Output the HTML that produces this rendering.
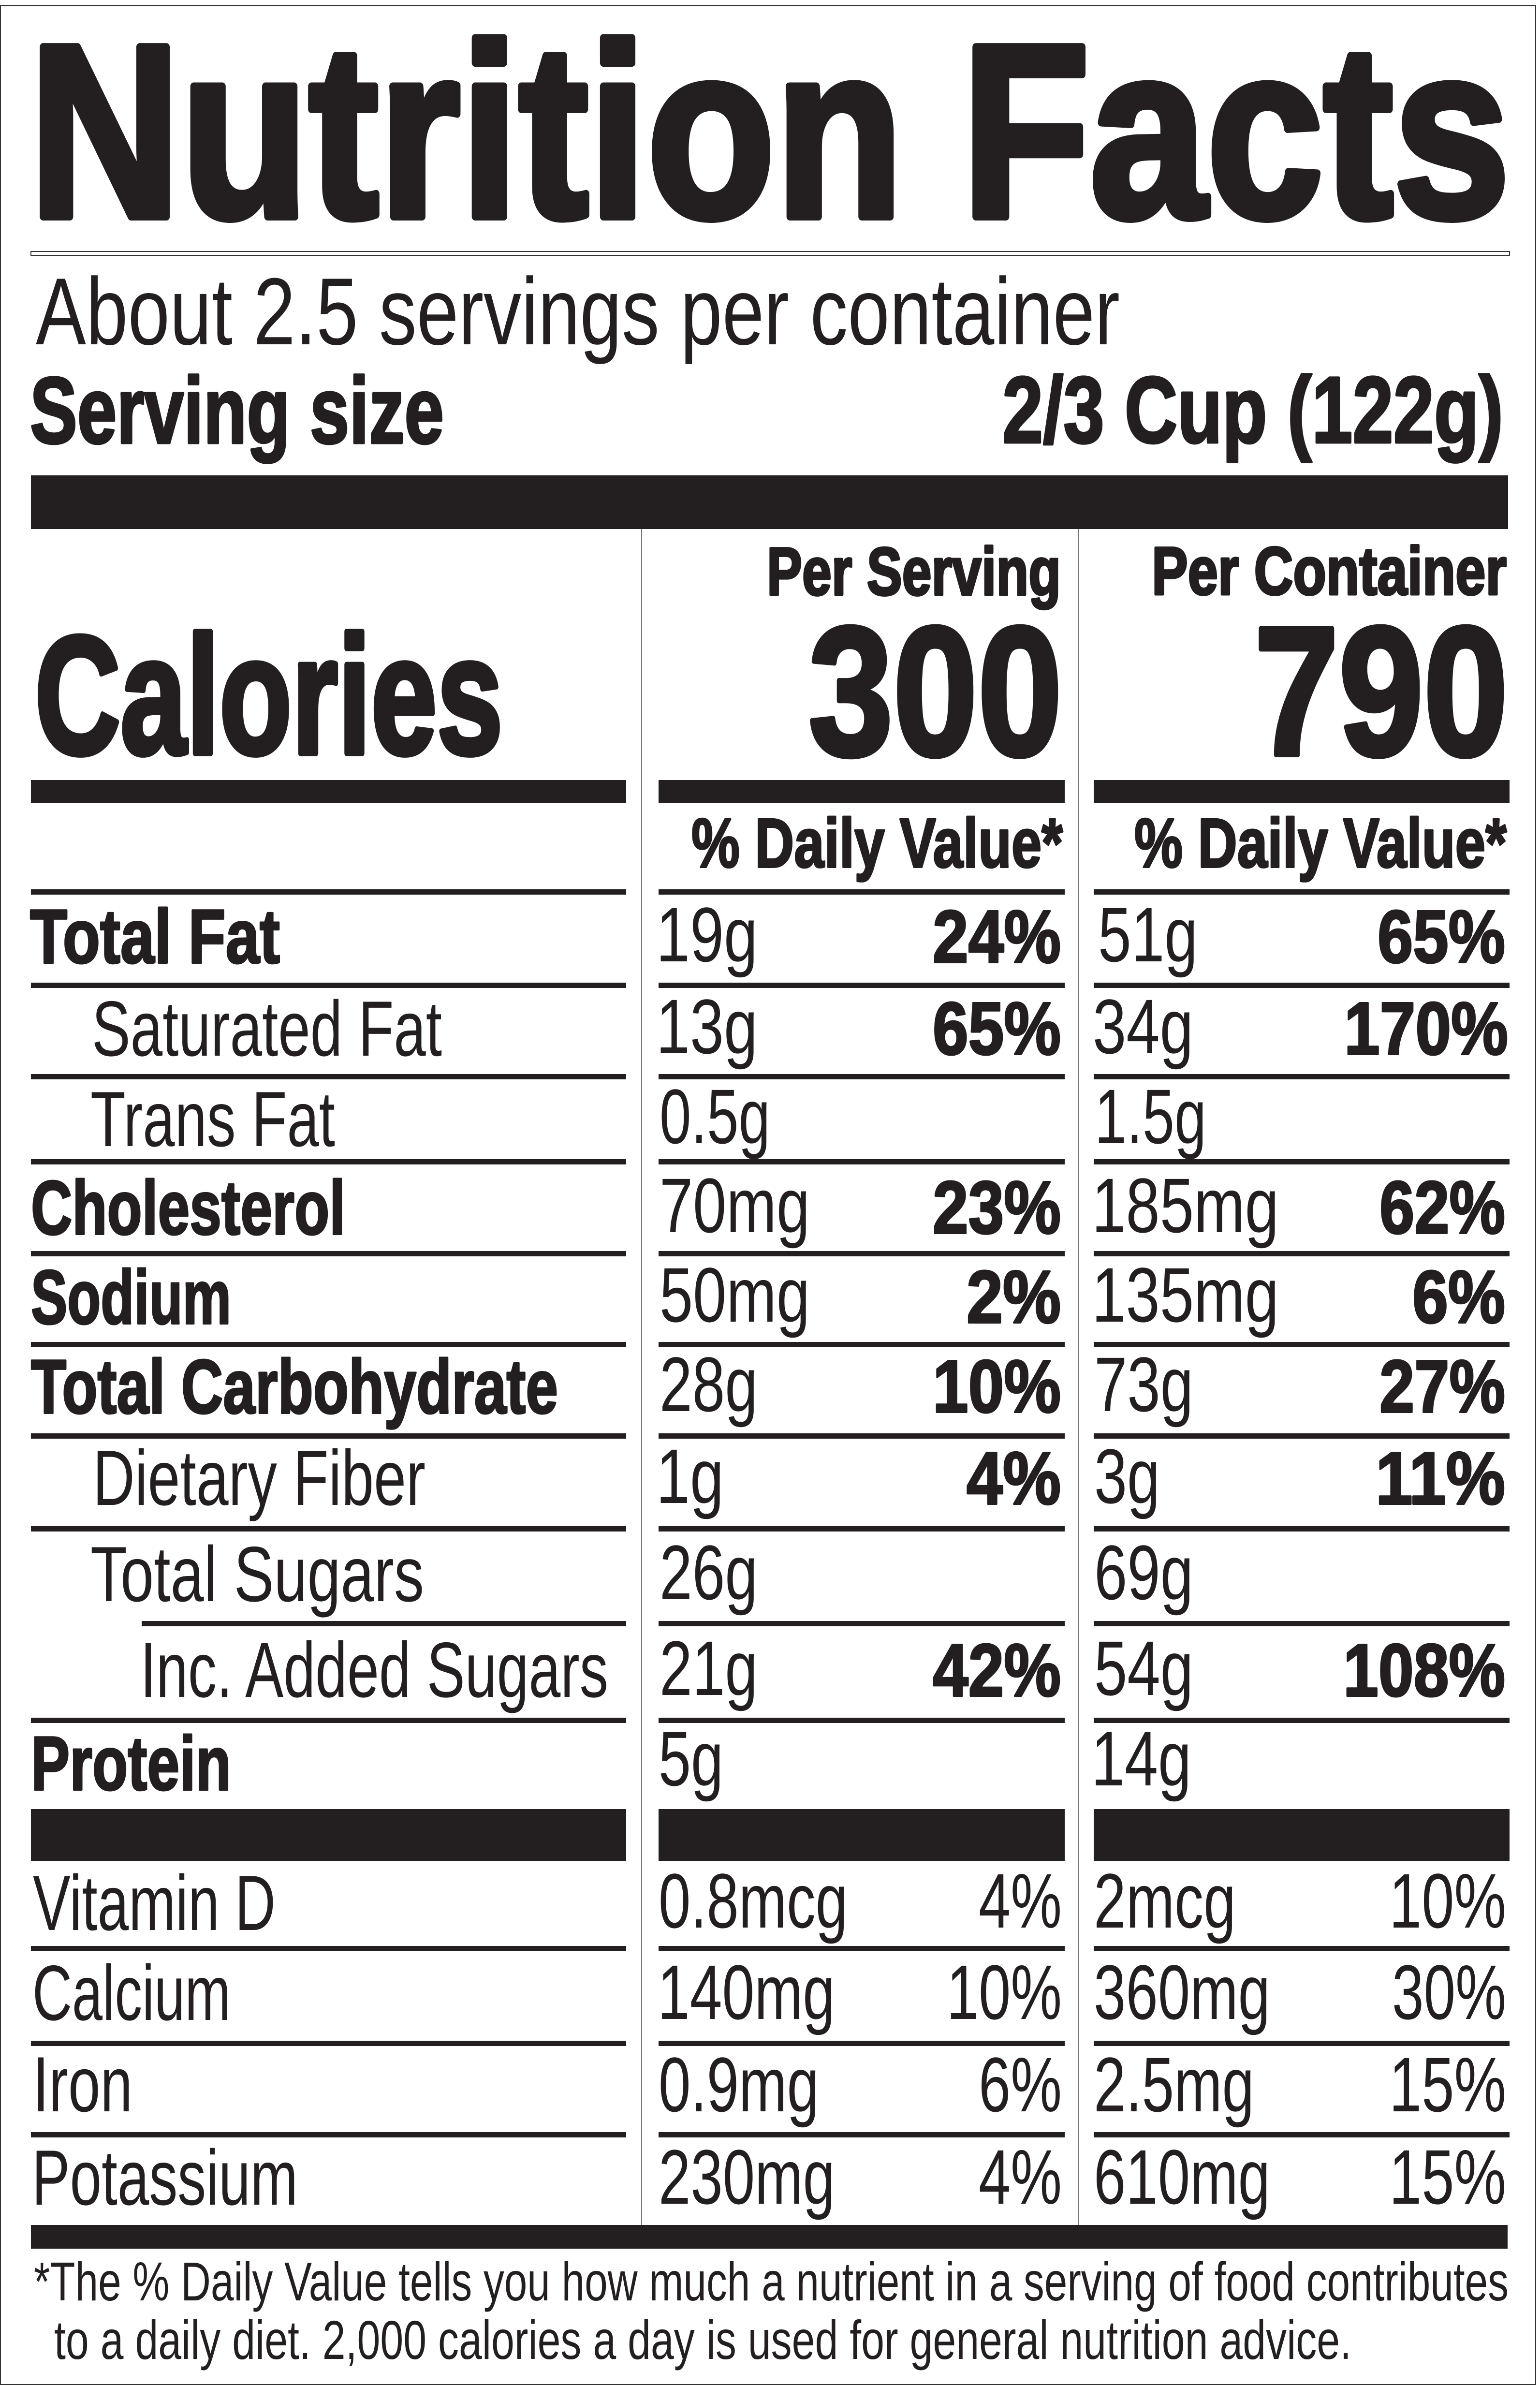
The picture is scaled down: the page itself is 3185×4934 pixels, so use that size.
<!DOCTYPE html>
<html>
<head>
<meta charset="utf-8">
<style>
html,body{margin:0;padding:0;background:#fff;}
svg{display:block;}
text{font-family:"Liberation Sans",Arial,sans-serif;fill:#231f20;}
.b{font-weight:bold;stroke:#231f20;stroke-linejoin:round;}
.r{font-weight:normal;}
</style>
</head>
<body>
<svg width="3185" height="4934" viewBox="0 0 3185 4934" xmlns="http://www.w3.org/2000/svg">
<rect x="0" y="0" width="3185" height="4934" fill="#fff"/>
<!-- border -->
<rect x="1" y="11" width="3175" height="4920" fill="none" stroke="#333" stroke-width="2"/>

<!-- Title -->
<text class="b" x="60" y="448" font-size="510" textLength="3063" lengthAdjust="spacingAndGlyphs" style="stroke-width:16">Nutrition Facts</text>
<rect x="64" y="520" width="3058" height="8" fill="#fff" stroke="#333" stroke-width="2"/>

<text class="r" x="74" y="712" font-size="197" textLength="2242" lengthAdjust="spacingAndGlyphs">About 2.5 servings per container</text>
<text class="b" x="62" y="916" font-size="195" textLength="856" lengthAdjust="spacingAndGlyphs" style="stroke-width:5">Serving size</text>
<text class="b" x="2073" y="915" font-size="195" textLength="1036" lengthAdjust="spacingAndGlyphs" style="stroke-width:5">2/3 Cup (122g)</text>

<!-- top thick bar -->
<rect x="64" y="983" width="3055" height="111" fill="#231f20"/>

<!-- vertical separators -->
<rect x="1326" y="1094" width="2" height="3507" fill="#777"/>
<rect x="2230" y="1094" width="2" height="3507" fill="#777"/>

<!-- headers -->
<text class="b" x="1586" y="1230" font-size="140" textLength="608" lengthAdjust="spacingAndGlyphs" style="stroke-width:5">Per Serving</text>
<text class="b" x="2382" y="1229" font-size="140" textLength="734" lengthAdjust="spacingAndGlyphs" style="stroke-width:5">Per Container</text>

<text class="b" x="72" y="1558" font-size="348" textLength="968" lengthAdjust="spacingAndGlyphs" style="stroke-width:11">Calories</text>
<text class="b" x="1672" y="1561" font-size="380" textLength="525" lengthAdjust="spacingAndGlyphs" style="stroke-width:10">300</text>
<text class="b" x="2594" y="1561" font-size="380" textLength="525" lengthAdjust="spacingAndGlyphs" style="stroke-width:10">790</text>

<!-- calories bars -->
<g fill="#231f20">
<rect x="64" y="1613" width="1231" height="47"/>
<rect x="1362" y="1613" width="840" height="47"/>
<rect x="2262" y="1613" width="860" height="47"/>
</g>

<text class="b" x="1430" y="1793" font-size="144" textLength="768" lengthAdjust="spacingAndGlyphs" style="stroke-width:4">% Daily Value*</text>
<text class="b" x="2346" y="1793" font-size="144" textLength="770" lengthAdjust="spacingAndGlyphs" style="stroke-width:4">% Daily Value*</text>

<!-- row lines -->
<g fill="#231f20">
<rect x="64" y="1839" width="1231" height="11"/><rect x="1362" y="1839" width="840" height="11"/><rect x="2262" y="1839" width="860" height="11"/>
<rect x="64" y="2032" width="1231" height="11"/><rect x="1362" y="2032" width="840" height="11"/><rect x="2262" y="2032" width="860" height="11"/>
<rect x="64" y="2221" width="1231" height="11"/><rect x="1362" y="2221" width="840" height="11"/><rect x="2262" y="2221" width="860" height="11"/>
<rect x="64" y="2397" width="1231" height="11"/><rect x="1362" y="2397" width="840" height="11"/><rect x="2262" y="2397" width="860" height="11"/>
<rect x="64" y="2587" width="1231" height="11"/><rect x="1362" y="2587" width="840" height="11"/><rect x="2262" y="2587" width="860" height="11"/>
<rect x="64" y="2775" width="1231" height="11"/><rect x="1362" y="2775" width="840" height="11"/><rect x="2262" y="2775" width="860" height="11"/>
<rect x="64" y="2964" width="1231" height="11"/><rect x="1362" y="2964" width="840" height="11"/><rect x="2262" y="2964" width="860" height="11"/>
<rect x="64" y="3156" width="1231" height="11"/><rect x="1362" y="3156" width="840" height="11"/><rect x="2262" y="3156" width="860" height="11"/>
<rect x="293" y="3352" width="1002" height="11"/><rect x="1362" y="3352" width="840" height="11"/><rect x="2262" y="3352" width="860" height="11"/>
<rect x="64" y="3552" width="1231" height="11"/><rect x="1362" y="3552" width="840" height="11"/><rect x="2262" y="3552" width="860" height="11"/>
<!-- vitamin bar -->
<rect x="64" y="3741" width="1231" height="107"/><rect x="1362" y="3741" width="840" height="107"/><rect x="2262" y="3741" width="860" height="107"/>
<rect x="64" y="4024" width="1231" height="11"/><rect x="1362" y="4024" width="840" height="11"/><rect x="2262" y="4024" width="860" height="11"/>
<rect x="64" y="4220" width="1231" height="11"/><rect x="1362" y="4220" width="840" height="11"/><rect x="2262" y="4220" width="860" height="11"/>
<rect x="64" y="4409" width="1231" height="11"/><rect x="1362" y="4409" width="840" height="11"/><rect x="2262" y="4409" width="860" height="11"/>
<!-- bottom bar -->
<rect x="64" y="4601" width="3054" height="49"/>
</g>

<!-- labels -->
<text class="b" x="62" y="1991" font-size="158" textLength="517" lengthAdjust="spacingAndGlyphs" style="stroke-width:4">Total Fat</text>
<text class="r" x="190" y="2183" font-size="162" textLength="724" lengthAdjust="spacingAndGlyphs">Saturated Fat</text>
<text class="r" x="187" y="2370" font-size="162" textLength="506" lengthAdjust="spacingAndGlyphs">Trans Fat</text>
<text class="b" x="64" y="2552" font-size="158" textLength="650" lengthAdjust="spacingAndGlyphs" style="stroke-width:4">Cholesterol</text>
<text class="b" x="64" y="2737" font-size="158" textLength="414" lengthAdjust="spacingAndGlyphs" style="stroke-width:4">Sodium</text>
<text class="b" x="64" y="2922" font-size="158" textLength="1090" lengthAdjust="spacingAndGlyphs" style="stroke-width:4">Total Carbohydrate</text>
<text class="r" x="192" y="3112" font-size="162" textLength="688" lengthAdjust="spacingAndGlyphs">Dietary Fiber</text>
<text class="r" x="187" y="3311" font-size="162" textLength="690" lengthAdjust="spacingAndGlyphs">Total Sugars</text>
<text class="r" x="290" y="3509" font-size="162" textLength="968" lengthAdjust="spacingAndGlyphs">Inc. Added Sugars</text>
<text class="b" x="64" y="3701" font-size="158" textLength="414" lengthAdjust="spacingAndGlyphs" style="stroke-width:4">Protein</text>
<text class="r" x="68" y="3991" font-size="162" textLength="502" lengthAdjust="spacingAndGlyphs">Vitamin D</text>
<text class="r" x="67" y="4177" font-size="162" textLength="410" lengthAdjust="spacingAndGlyphs">Calcium</text>
<text class="r" x="68" y="4366" font-size="162" textLength="206" lengthAdjust="spacingAndGlyphs">Iron</text>
<text class="r" x="66" y="4559" font-size="162" textLength="550" lengthAdjust="spacingAndGlyphs">Potassium</text>

<!-- middle column values -->
<g font-size="160">
<text class="r" x="1357" y="1988" textLength="210" lengthAdjust="spacingAndGlyphs">19g</text>
<text class="r" x="1357" y="2178" textLength="210" lengthAdjust="spacingAndGlyphs">13g</text>
<text class="r" x="1364" y="2364" textLength="229" lengthAdjust="spacingAndGlyphs">0.5g</text>
<text class="r" x="1364" y="2548" textLength="311" lengthAdjust="spacingAndGlyphs">70mg</text>
<text class="r" x="1364" y="2733" textLength="311" lengthAdjust="spacingAndGlyphs">50mg</text>
<text class="r" x="1364" y="2918" textLength="203" lengthAdjust="spacingAndGlyphs">28g</text>
<text class="r" x="1357" y="3108" textLength="140" lengthAdjust="spacingAndGlyphs">1g</text>
<text class="r" x="1364" y="3307" textLength="203" lengthAdjust="spacingAndGlyphs">26g</text>
<text class="r" x="1364" y="3505" textLength="203" lengthAdjust="spacingAndGlyphs">21g</text>
<text class="r" x="1362" y="3692" textLength="134" lengthAdjust="spacingAndGlyphs">5g</text>
<text class="r" x="1362" y="3986" textLength="391" lengthAdjust="spacingAndGlyphs">0.8mcg</text>
<text class="r" x="1360" y="4175" textLength="367" lengthAdjust="spacingAndGlyphs">140mg</text>
<text class="r" x="1362" y="4366" textLength="332" lengthAdjust="spacingAndGlyphs">0.9mg</text>
<text class="r" x="1362" y="4557" textLength="365" lengthAdjust="spacingAndGlyphs">230mg</text>
<text class="r" x="2024" y="3986" textLength="172" lengthAdjust="spacingAndGlyphs">4%</text>
<text class="r" x="1958" y="4175" textLength="238" lengthAdjust="spacingAndGlyphs">10%</text>
<text class="r" x="2024" y="4366" textLength="172" lengthAdjust="spacingAndGlyphs">6%</text>
<text class="r" x="2024" y="4557" textLength="172" lengthAdjust="spacingAndGlyphs">4%</text>
</g>
<g font-size="154" class="b" style="stroke-width:4">
<text x="1929" y="1990" textLength="265" lengthAdjust="spacingAndGlyphs">24%</text>
<text x="1929" y="2180" textLength="265" lengthAdjust="spacingAndGlyphs">65%</text>
<text x="1929" y="2550" textLength="265" lengthAdjust="spacingAndGlyphs">23%</text>
<text x="1999" y="2735" textLength="195" lengthAdjust="spacingAndGlyphs">2%</text>
<text x="1929" y="2920" textLength="265" lengthAdjust="spacingAndGlyphs">10%</text>
<text x="1999" y="3110" textLength="195" lengthAdjust="spacingAndGlyphs">4%</text>
<text x="1929" y="3507" textLength="265" lengthAdjust="spacingAndGlyphs">42%</text>
</g>

<!-- right column values -->
<g font-size="160">
<text class="r" x="2271" y="1988" textLength="206" lengthAdjust="spacingAndGlyphs">51g</text>
<text class="r" x="2260" y="2178" textLength="208" lengthAdjust="spacingAndGlyphs">34g</text>
<text class="r" x="2264" y="2364" textLength="231" lengthAdjust="spacingAndGlyphs">1.5g</text>
<text class="r" x="2258" y="2548" textLength="387" lengthAdjust="spacingAndGlyphs">185mg</text>
<text class="r" x="2258" y="2733" textLength="387" lengthAdjust="spacingAndGlyphs">135mg</text>
<text class="r" x="2263" y="2918" textLength="205" lengthAdjust="spacingAndGlyphs">73g</text>
<text class="r" x="2263" y="3108" textLength="136" lengthAdjust="spacingAndGlyphs">3g</text>
<text class="r" x="2263" y="3307" textLength="205" lengthAdjust="spacingAndGlyphs">69g</text>
<text class="r" x="2263" y="3505" textLength="205" lengthAdjust="spacingAndGlyphs">54g</text>
<text class="r" x="2257" y="3692" textLength="207" lengthAdjust="spacingAndGlyphs">14g</text>
<text class="r" x="2262" y="3986" textLength="294" lengthAdjust="spacingAndGlyphs">2mcg</text>
<text class="r" x="2262" y="4175" textLength="365" lengthAdjust="spacingAndGlyphs">360mg</text>
<text class="r" x="2262" y="4366" textLength="332" lengthAdjust="spacingAndGlyphs">2.5mg</text>
<text class="r" x="2262" y="4557" textLength="365" lengthAdjust="spacingAndGlyphs">610mg</text>
<text class="r" x="2873" y="3986" textLength="242" lengthAdjust="spacingAndGlyphs">10%</text>
<text class="r" x="2879" y="4175" textLength="236" lengthAdjust="spacingAndGlyphs">30%</text>
<text class="r" x="2873" y="4366" textLength="242" lengthAdjust="spacingAndGlyphs">15%</text>
<text class="r" x="2873" y="4557" textLength="242" lengthAdjust="spacingAndGlyphs">15%</text>
</g>
<g font-size="154" class="b" style="stroke-width:4">
<text x="2849" y="1990" textLength="264" lengthAdjust="spacingAndGlyphs">65%</text>
<text x="2780" y="2180" textLength="339" lengthAdjust="spacingAndGlyphs">170%</text>
<text x="2853" y="2550" textLength="260" lengthAdjust="spacingAndGlyphs">62%</text>
<text x="2921" y="2735" textLength="192" lengthAdjust="spacingAndGlyphs">6%</text>
<text x="2853" y="2920" textLength="260" lengthAdjust="spacingAndGlyphs">27%</text>
<text x="2845" y="3110" textLength="268" lengthAdjust="spacingAndGlyphs">11%</text>
<text x="2778" y="3507" textLength="335" lengthAdjust="spacingAndGlyphs">108%</text>
</g>

<!-- footnote -->
<text class="r" x="70" y="4757" font-size="113" textLength="3050" lengthAdjust="spacingAndGlyphs">*The % Daily Value tells you how much a nutrient in a serving of food contributes</text>
<text class="r" x="112" y="4878" font-size="113" textLength="2683" lengthAdjust="spacingAndGlyphs">to a daily diet. 2,000 calories a day is used for general nutrition advice.</text>
</svg>
</body>
</html>
